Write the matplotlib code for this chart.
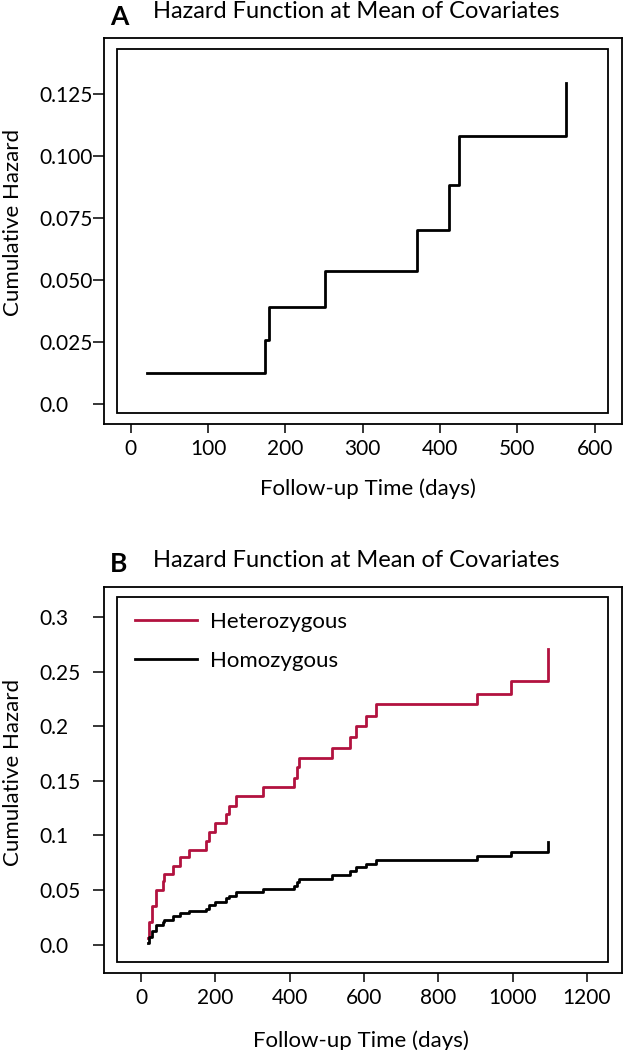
import numpy as np
import matplotlib.pyplot as plt
from matplotlib.patches import Rectangle

plt.rcParams['font.family'] = ['Lato', 'DejaVu Sans']

# Panel A: cumulative hazard at mean of covariates
days_a = [21, 174, 179, 251, 370, 412, 424, 563]
haz_a = [0.0126, 0.0256, 0.0391, 0.0537, 0.0703, 0.0882, 0.1083, 0.1294]

# Panel B: two genotype groups, shared event times
days_b = [18, 22, 29, 40, 60, 63, 86, 104, 130, 175, 184, 199, 228, 236, 256,
          328, 413, 419, 426, 514, 563, 579, 606, 633, 904, 996, 1095]
haz_het = [0.006, 0.021, 0.035, 0.050, 0.058, 0.065, 0.072, 0.080, 0.087, 0.095,
           0.103, 0.111, 0.120, 0.127, 0.136, 0.144, 0.153, 0.163, 0.171, 0.180,
           0.190, 0.200, 0.209, 0.220, 0.230, 0.241, 0.271]
haz_hom = [0.002, 0.007, 0.0125, 0.018, 0.0205, 0.023, 0.026, 0.029, 0.031, 0.033,
           0.036, 0.039, 0.0425, 0.045, 0.048, 0.051, 0.054, 0.057, 0.060, 0.064,
           0.0675, 0.071, 0.074, 0.078, 0.081, 0.085, 0.094]

xticks_a = [0, 100, 200, 300, 400, 500, 600]
yticks_a = [0.0, 0.025, 0.05, 0.075, 0.1, 0.125]
ylabels_a = ["0.0", "0.025", "0.050", "0.075", "0.100", "0.125"]
xticks_b = [0, 200, 400, 600, 800, 1000, 1200]
yticks_b = [0.0, 0.05, 0.1, 0.15, 0.2, 0.25, 0.3]
ylabels_b = ["0.0", "0.05", "0.1", "0.15", "0.2", "0.25", "0.3"]

red = '#B2123F'
fs_tick = 15
fs_lab = 16
fs_title = 17

fig = plt.figure(figsize=(6.23, 10.5), dpi=100)
axA = fig.add_axes([104/623, 1-424/1050, 517.7/623, 385.7/1050])
axB = fig.add_axes([104/623, 1-973.3/1050, 517.8/623, 386.6/1050])


def style(ax, xt, yt, ylab):
    for s in ax.spines.values():
        s.set_linewidth(1.3)
    # inner frame around the plotting region
    ax.add_patch(Rectangle((0.025, 0.029), 0.9485, 0.944, transform=ax.transAxes,
                           fill=False, lw=1.3, clip_on=False))
    ax.set_xticks(xt)
    ax.set_yticks(yt)
    ax.set_yticklabels(ylab)
    ax.tick_params(axis='x', length=6.5, width=1.1, pad=4, labelsize=fs_tick)
    ax.tick_params(axis='y', length=8, width=1.1, pad=38.5, labelsize=fs_tick)
    for lb in ax.get_yticklabels():
        lb.set_horizontalalignment('left')
    ax.set_xlabel('Follow-up Time (days)', fontsize=fs_lab)
    ax.set_ylabel('Cumulative Hazard', fontsize=fs_lab)


# Panel A
axA.step(days_a, haz_a, where='post', color='black', lw=2.0)
axA.set_xlim(-34.5, 635)
axA.set_ylim(-0.0082, 0.1476)
style(axA, xticks_a, yticks_a, ylabels_a)
axA.xaxis.set_label_coords(0.509, -0.14)
axA.yaxis.set_label_coords(-0.157, 0.522)

# Panel B
axB.step(days_b, haz_het, where='post', color=red, lw=2.0, label='Heterozygous')
axB.step(days_b, haz_hom, where='post', color='black', lw=2.0, label='Homozygous')
axB.set_xlim(-99.6, 1294)
axB.set_ylim(-0.0262, 0.3278)
style(axB, xticks_b, yticks_b, ylabels_b)
axB.xaxis.set_label_coords(0.497, -0.148)
axB.yaxis.set_label_coords(-0.157, 0.52)
axB.legend(loc='upper left', bbox_to_anchor=(0.06, 0.935), frameon=False,
           fontsize=fs_lab, handlelength=2.78, handletextpad=0.6, labelspacing=0.86,
           borderpad=0, borderaxespad=0)

# titles
fig.text(119/623, 1-25/1050, 'A', fontsize=fs_title + 2, fontweight='bold', ha='center', va='baseline')
fig.text(153/623, 1-18.3/1050, 'Hazard Function at Mean of Covariates', fontsize=fs_title, va='baseline')
fig.text(119/623, 1-572/1050, 'B', fontsize=fs_title + 2, fontweight='bold', ha='center', va='baseline')
fig.text(153/623, 1-566.7/1050, 'Hazard Function at Mean of Covariates', fontsize=fs_title, va='baseline')

fig.savefig('out.png', dpi=100)
